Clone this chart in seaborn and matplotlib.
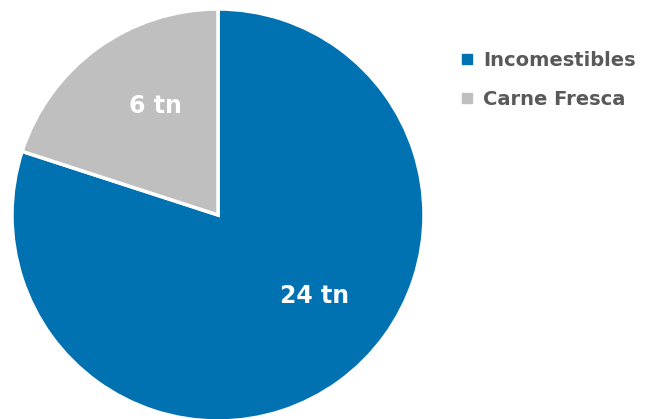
import numpy as np
import seaborn as sns
import matplotlib.pyplot as plt
from matplotlib.lines import Line2D

# data
categories = ["Incomestibles", "Carne Fresca"]
values = [24, 6]
value_labels = ["24 tn", "6 tn"]
colors = ["#0072B2", "#BFBFBF"]

sns.set_theme(style="white")
plt.rcParams['font.family'] = ['DejaVu Sans']

fig = plt.figure(figsize=(6.48, 4.19), dpi=100)
ax = fig.add_axes([12 / 648, -2 / 419, 412 / 648, 412 / 419])

wedges, texts = ax.pie(values, colors=colors, startangle=90, counterclock=False,
                       labels=value_labels, labeldistance=0.61,
                       wedgeprops=dict(edgecolor="white", linewidth=2.5),
                       textprops=dict(color="white", fontsize=17, fontweight="bold",
                                      ha="center", va="center"))

# nudge label angles to where the reference puts them
label_angles = [-40, 120]
for t, a in zip(texts, label_angles):
    r = 0.61
    t.set_position((r * np.cos(np.radians(a)), r * np.sin(np.radians(a))))
ax.set_xlim(-1, 1)
ax.set_ylim(-1, 1)
ax.set_aspect("equal")

handles = [Line2D([0], [0], marker="s", linestyle="none", markersize=7,
                  markerfacecolor=c, markeredgecolor=c) for c in colors]
leg = fig.legend(handles, categories, loc="upper left",
                 bbox_to_anchor=(440 / 648, 1 - 33 / 419), frameon=False,
                 fontsize=14, handletextpad=0.3, handlelength=1.0, labelspacing=1.05)
for txt in leg.get_texts():
    txt.set_color("#595959")
    txt.set_fontweight("bold")

fig.savefig("out.png", dpi=100)
